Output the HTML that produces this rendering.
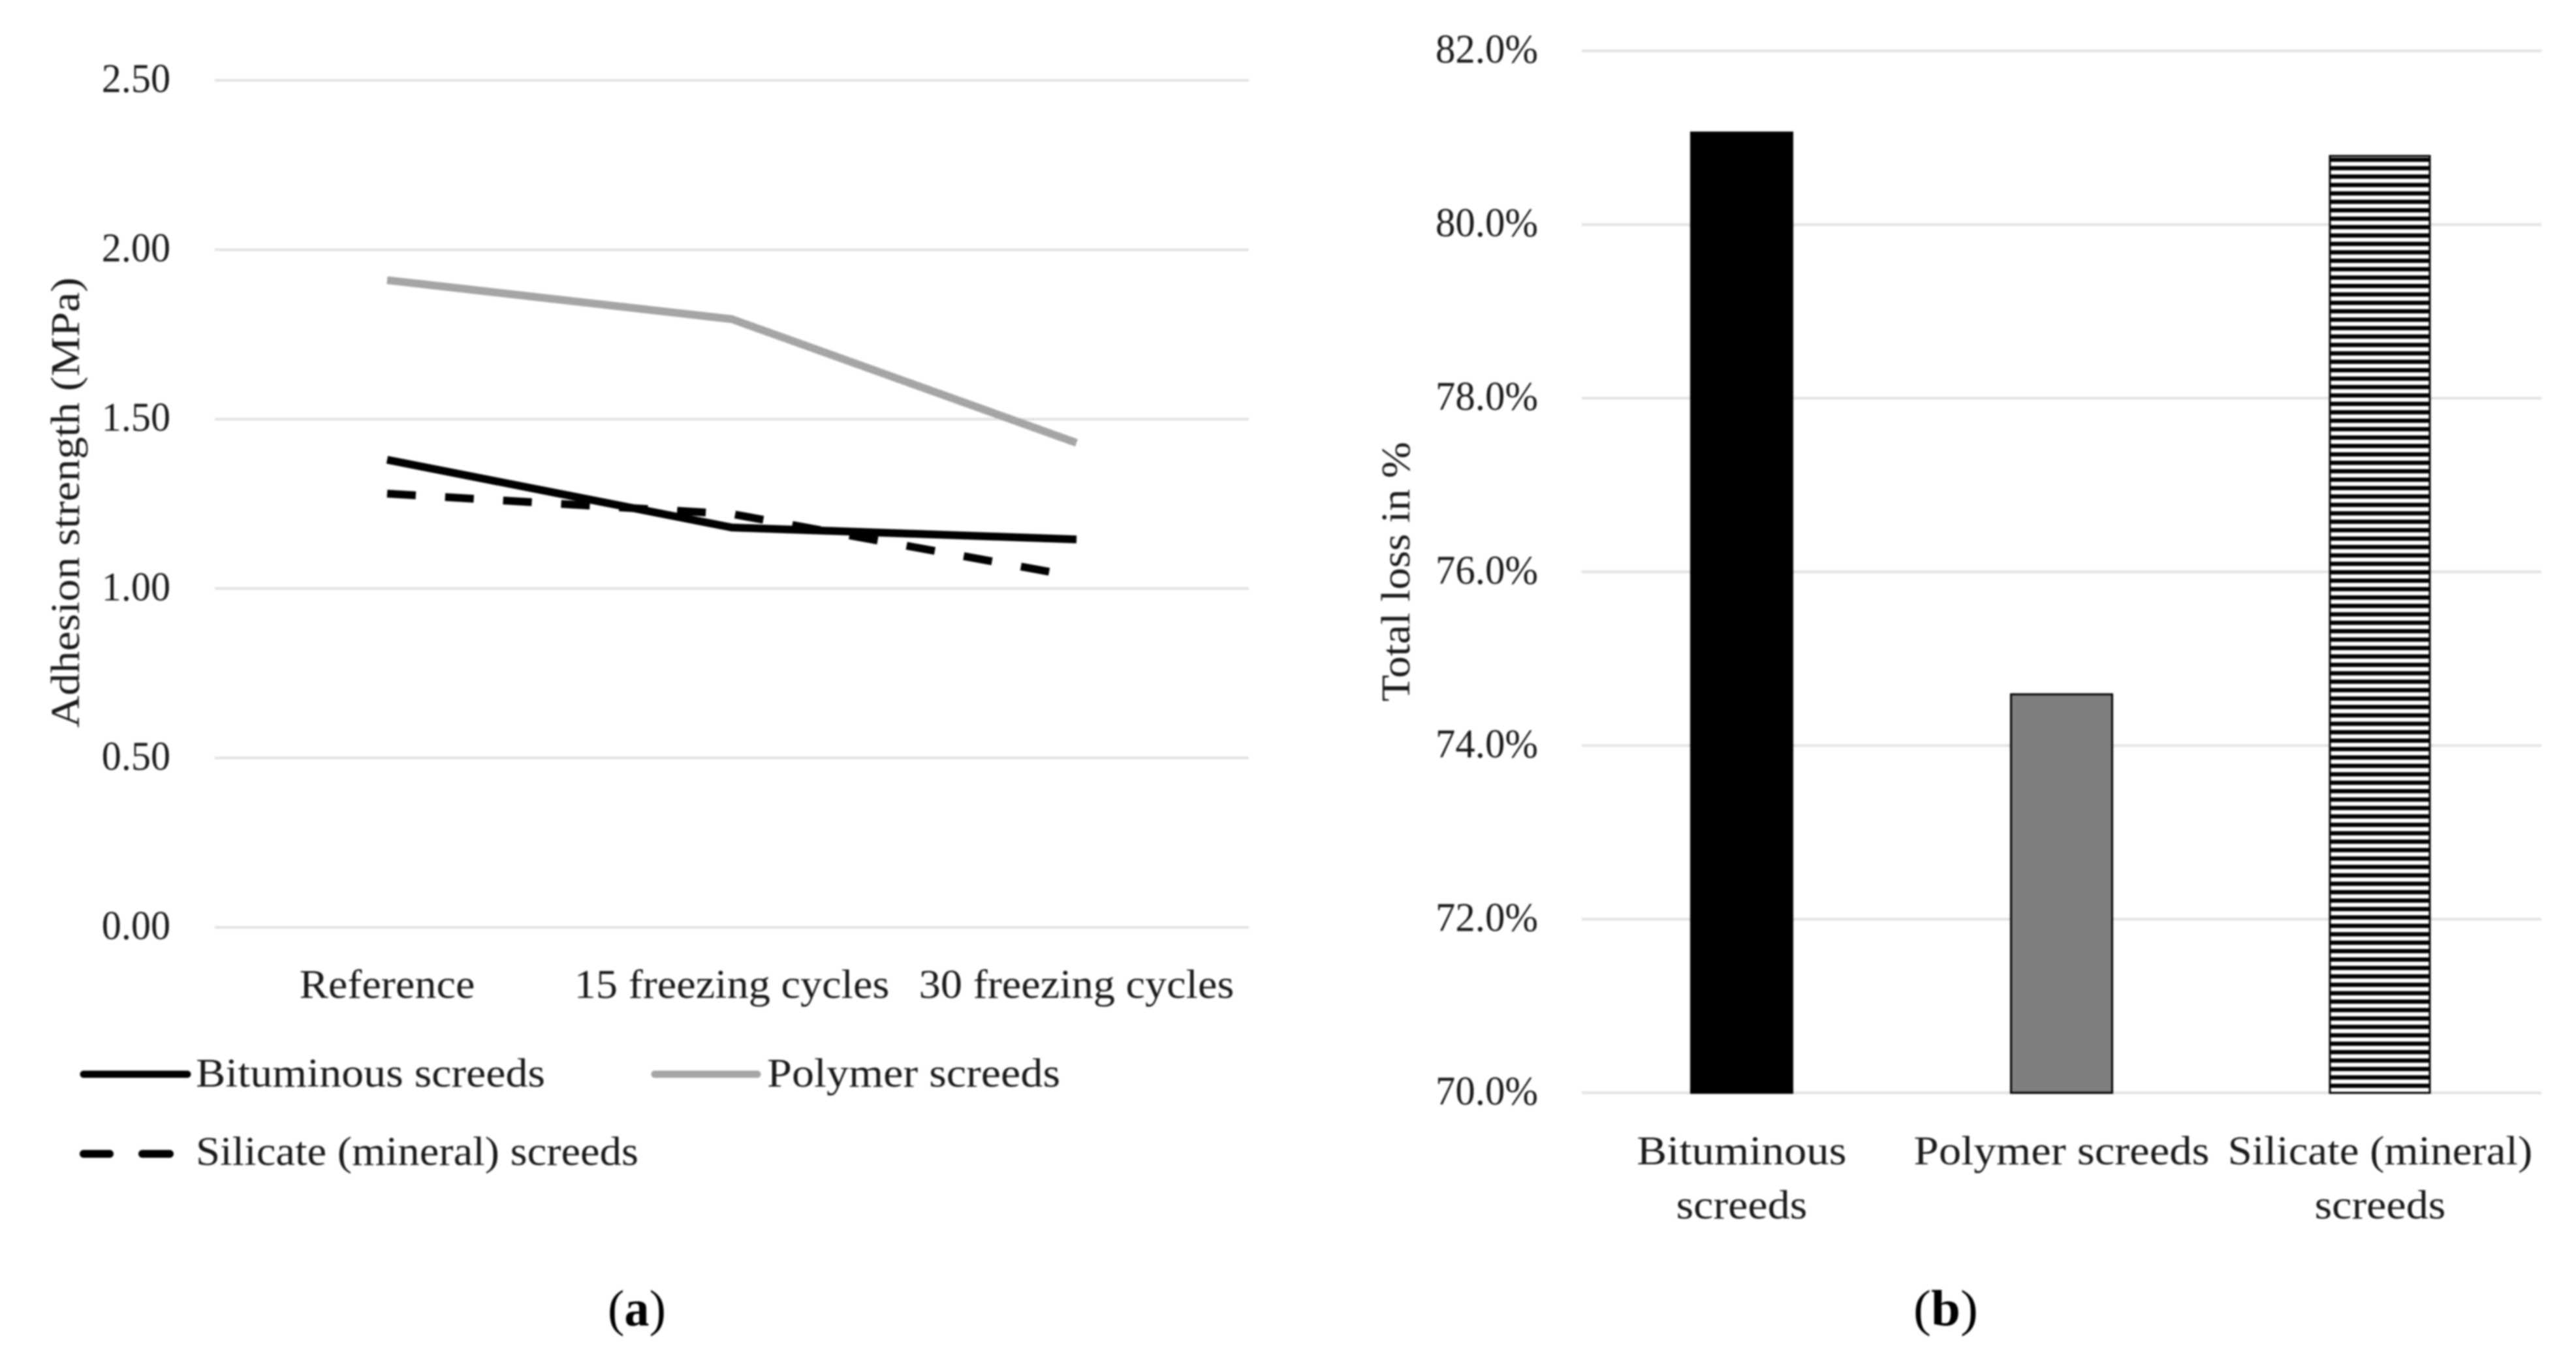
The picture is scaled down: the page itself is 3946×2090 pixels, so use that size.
<!DOCTYPE html>
<html lang="en">
<head>
<meta charset="utf-8">
<title>Adhesion strength and total loss of screeds</title>
<style>
html,body{margin:0;padding:0;background:#fff;width:3946px;height:2090px;overflow:hidden}
svg{display:block;filter:blur(1.3px)}
text{font-family:"Liberation Serif",serif;font-size:62px;fill:#1a1a1a}
</style>
</head>
<body>
<svg id="figure" xmlns="http://www.w3.org/2000/svg" width="3946" height="2090" viewBox="0 0 3946 2090">
  <defs>
    <pattern id="stripes" patternUnits="userSpaceOnUse" width="20" height="12.9" y="241.5">
      <rect width="20" height="12.9" fill="#fff"/>
      <rect width="20" height="6.5" fill="#000"/>
    </pattern>
  </defs>
  <rect width="3946" height="2090" fill="#fff"/>
  <g id="chart-a"></g>
  <g id="chart-b"></g>

  <text transform="translate(121,1115) rotate(-90)" textLength="690" lengthAdjust="spacingAndGlyphs">Adhesion strength (MPa)</text>
  <text transform="translate(2159,1075) rotate(-90)" textLength="398" lengthAdjust="spacingAndGlyphs">Total loss in %</text>

  <g>
    <g>
      <line x1="128" y1="1646" x2="287" y2="1646" stroke="#000" stroke-width="11" stroke-linecap="round"/>
      <text x="300" y="1665" textLength="535" lengthAdjust="spacingAndGlyphs">Bituminous screeds</text>
    </g>
    <g>
      <line x1="1003" y1="1646" x2="1160" y2="1646" stroke="#a5a5a5" stroke-width="11" stroke-linecap="round"/>
      <text x="1175" y="1665" textLength="449" lengthAdjust="spacingAndGlyphs">Polymer screeds</text>
    </g>
    <g>
      <line x1="128" y1="1768" x2="168" y2="1768" stroke="#000" stroke-width="12" stroke-linecap="round"/>
      <line x1="218" y1="1768" x2="260" y2="1768" stroke="#000" stroke-width="12" stroke-linecap="round"/>
      <text x="300" y="1785" textLength="678" lengthAdjust="spacingAndGlyphs">Silicate (mineral) screeds</text>
    </g>
  </g>

  <text x="931" y="2031" style="font-size:78px;fill:#000" textLength="89" lengthAdjust="spacingAndGlyphs">(<tspan font-weight="bold">a</tspan>)</text>
  <text x="2931" y="2031" style="font-size:78px;fill:#000" textLength="99" lengthAdjust="spacingAndGlyphs">(<tspan font-weight="bold">b</tspan>)</text>
</svg>
<script>
// Chart (a) data
const lineCategories = ['Reference', '15 freezing cycles', '30 freezing cycles'];
const bituminousValues = [1.38, 1.18, 1.145];
const polymerValues = [1.91, 1.795, 1.43];
const silicateValues = [1.28, 1.22, 1.035];
const lineTickValues = [0, 0.5, 1, 1.5, 2, 2.5];

// Chart (b) data
const barCategories = ['Bituminous screeds', 'Polymer screeds', 'Silicate (mineral) screeds'];
const barValues = [81.06, 74.59, 80.79];
const barTickValues = [70, 72, 74, 76, 78, 80, 82];

const SVGNS = 'http://www.w3.org/2000/svg';
function make(parent, tag, attrs) {
  const el = document.createElementNS(SVGNS, tag);
  for (const k in attrs) el.setAttribute(k, attrs[k]);
  parent.appendChild(el);
  return el;
}
function stretch(el, k) {
  const w = el.getComputedTextLength();
  el.setAttribute('textLength', (w * k).toFixed(1));
  el.setAttribute('lengthAdjust', 'spacingAndGlyphs');
}

// ---------- Chart (a) ----------
const chartA = document.getElementById('chart-a');
const aLeft = 329, aRight = 1913, aBottom = 1421, aTop = 123, aMax = 2.5;
const aY = v => aBottom - (v / aMax) * (aBottom - aTop);
const aBand = (aRight - aLeft) / lineCategories.length;
const aX = i => aLeft + aBand * (i + 0.5);

lineTickValues.forEach(v => {
  const g = make(chartA, 'line', { x1: aLeft, x2: aRight, y1: aY(v), y2: aY(v), stroke: '#e2e2e2', 'stroke-width': 4 });
  
  
  const t = make(chartA, 'text', { x: 261, y: aY(v) + 18, 'text-anchor': 'end' });
  t.textContent = v.toFixed(2);
  
  
  stretch(t, 0.97);
});

lineCategories.forEach((c, i) => {
  const t = make(chartA, 'text', { x: aX(i), y: 1529, 'text-anchor': 'middle' });
  t.textContent = c;
  
  
  stretch(t, 1.07);
});

function drawSeries(values, color, dash) {
  const pts = values.map((v, i) => aX(i).toFixed(1) + ',' + aY(v).toFixed(1)).join(' ');
  const attrs = { points: pts, fill: 'none', stroke: color, 'stroke-width': 12, 'stroke-linejoin': 'round' };
  if (dash) attrs['stroke-dasharray'] = dash;
  return make(chartA, 'polyline', attrs);
}
const polymerLine = drawSeries(polymerValues, '#a5a5a5');


const silicateLine = drawSeries(silicateValues, '#000', '44 45');


const bituminousLine = drawSeries(bituminousValues, '#000');



// ---------- Chart (b) ----------
const chartB = document.getElementById('chart-b');
const bLeft = 2423, bRight = 3893, bBottom = 1674.5, bTop = 78, bMin = 70, bMax = 82;
const bY = v => bBottom - ((v - bMin) / (bMax - bMin)) * (bBottom - bTop);
const bBand = (bRight - bLeft) / barCategories.length;
const bX = i => bLeft + bBand * (i + 0.5);
const barWidth = 155;

barTickValues.forEach(v => {
  const g = make(chartB, 'line', { x1: bLeft, x2: bRight, y1: bY(v), y2: bY(v), stroke: '#e2e2e2', 'stroke-width': 4 });
  
  
  const t = make(chartB, 'text', { x: 2356, y: bY(v) + 18, 'text-anchor': 'end' });
  t.textContent = v.toFixed(1) + '%';
  
  
  stretch(t, 0.98);
});

const barFills = ['#000', '#7f7f7f', 'url(#stripes)'];
barValues.forEach((v, i) => {
  const r = make(chartB, 'rect', {
    x: bX(i) - barWidth / 2 - (i === 2 ? 1.5 : 0), y: bY(v), width: i === 2 ? barWidth - 2 : barWidth, height: bBottom - bY(v),
    fill: barFills[i % barFills.length], stroke: '#000', 'stroke-width': 3
  });
  
  
});

barCategories.forEach((c, i) => {
  const t = make(chartB, 'text', { x: bX(i) - (i === 2 ? 2 : 0), y: 1784, 'text-anchor': 'middle' });
  t.textContent = c;
  
  
  if (t.getComputedTextLength() * 1.1 > bBand) {
    const cut = c.lastIndexOf(' ');
    t.textContent = c.slice(0, cut);
    stretch(t, i === 2 ? 1.08 : 1.11);
    const t2 = make(chartB, 'text', { x: bX(i) - (i === 2 ? 2 : 0), y: 1867, 'text-anchor': 'middle' });
    t2.textContent = c.slice(cut + 1);
    
    
    stretch(t2, 1.1);
  } else {
    stretch(t, 1.11);
  }
});
</script>
</body>
</html>
